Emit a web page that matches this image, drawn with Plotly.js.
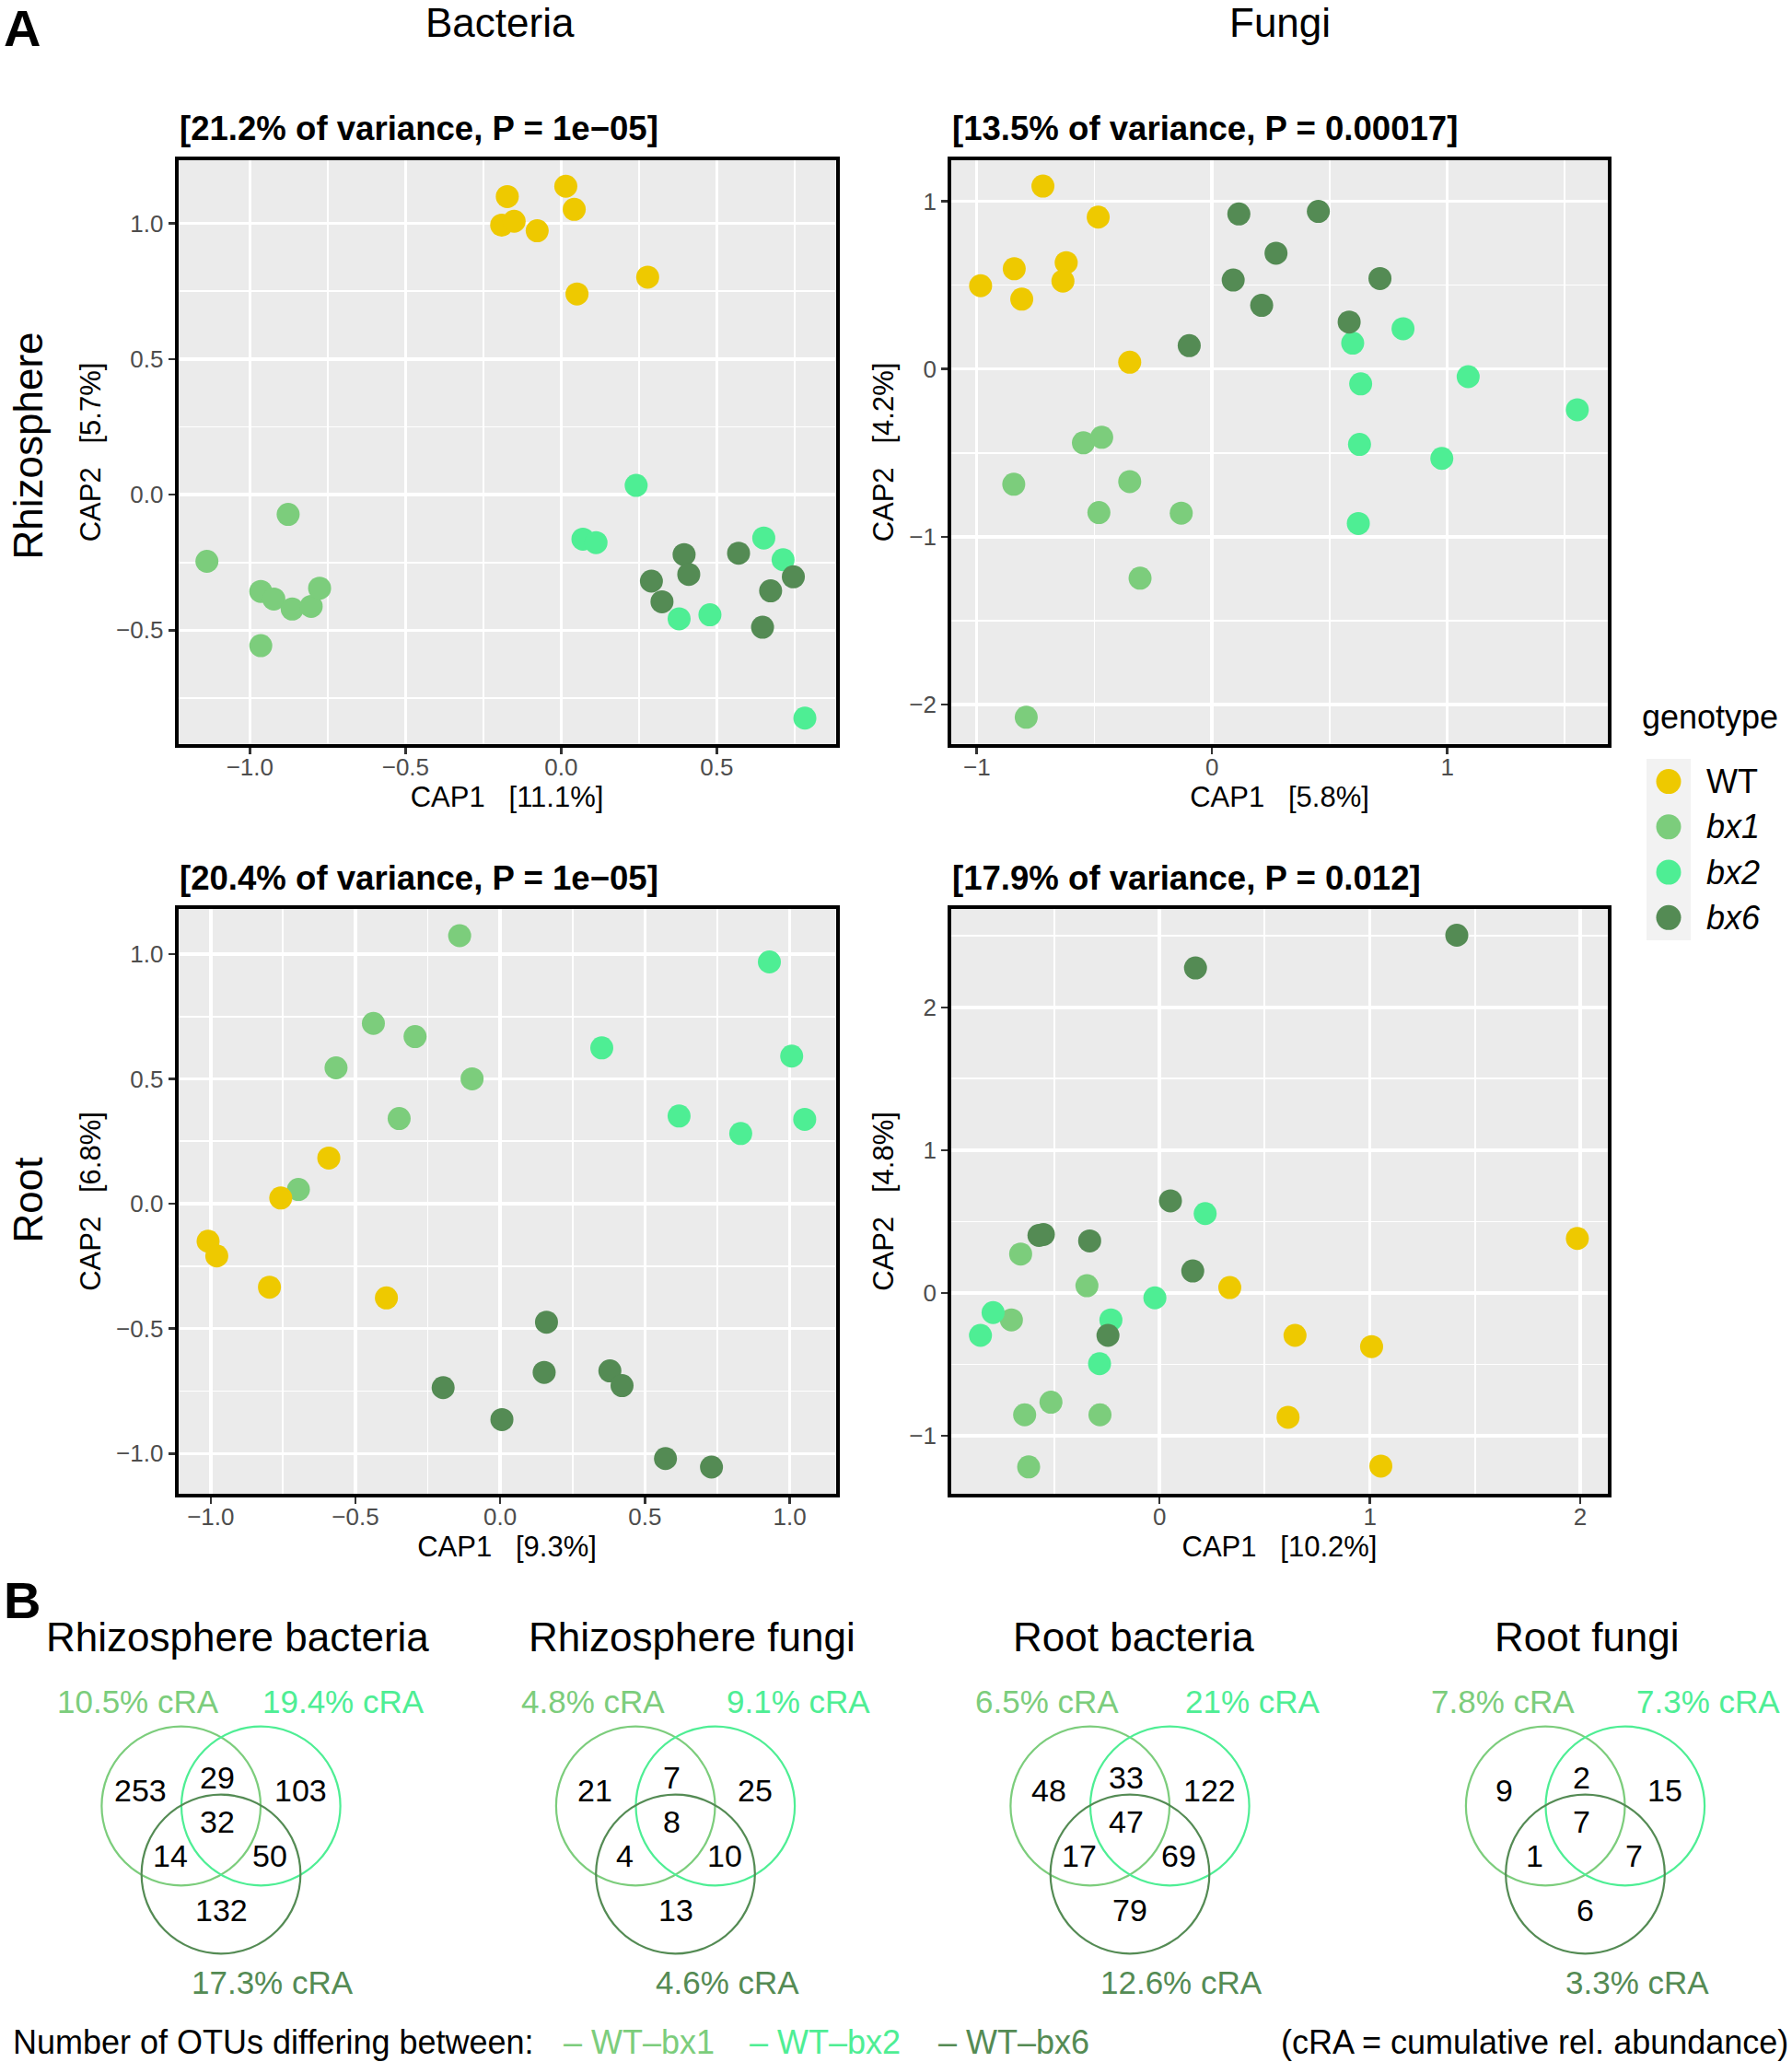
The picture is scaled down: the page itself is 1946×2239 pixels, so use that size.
<!DOCTYPE html>
<html><head><meta charset="utf-8">
<script src="https://cdn.plot.ly/plotly-3.0.1.min.js"></script>
<style>html,body{margin:0;padding:0;background:#fff}</style>
</head><body><div id="chart" style="width:1946px;height:2239px"></div>
<script>
const W = 1946, H = 2239;
const FONT = 'Liberation Sans, Arial, Helvetica, sans-serif';

// ---------- DATA ----------
const genotypes = ['WT', 'bx1', 'bx2', 'bx6'];
const genotypeColors = ['#EEC900', '#7CCD7C', '#4EEE94', '#548B54'];

// CAP scores, one inner array per genotype (WT, bx1, bx2, bx6)
const rhizoBacteriaCap1 = [
  [-0.173, 0.015, 0.042, -0.191, -0.151, -0.077, 0.278, 0.051],
  [-0.877, -1.138, -0.965, -0.923, -0.864, -0.803, -0.776, -0.965],
  [0.241, 0.070, 0.112, 0.379, 0.478, 0.651, 0.713, 0.783],
  [0.395, 0.410, 0.290, 0.324, 0.570, 0.673, 0.746, 0.647]
];
const rhizoBacteriaCap2 = [
  [1.099, 1.137, 1.052, 0.994, 1.008, 0.973, 0.802, 0.740],
  [-0.073, -0.246, -0.357, -0.385, -0.422, -0.412, -0.345, -0.557],
  [0.034, -0.164, -0.177, -0.458, -0.443, -0.160, -0.240, -0.824],
  [-0.221, -0.294, -0.319, -0.395, -0.216, -0.355, -0.303, -0.489]
];
const rhizoFungiCap1 = [
  [-0.719, -0.484, -0.841, -0.620, -0.634, -0.984, -0.809, -0.350],
  [-0.547, -0.469, -0.843, -0.350, -0.481, -0.131, -0.306, -0.790],
  [0.812, 0.598, 0.632, 1.089, 1.553, 0.627, 0.977, 0.622],
  [0.114, 0.452, 0.272, 0.090, 0.714, 0.211, 0.583, -0.097]
];
const rhizoFungiCap2 = [
  [1.090, 0.905, 0.597, 0.634, 0.524, 0.496, 0.416, 0.040],
  [-0.440, -0.407, -0.687, -0.671, -0.856, -0.859, -1.247, -2.076],
  [0.240, 0.154, -0.089, -0.046, -0.243, -0.450, -0.533, -0.921],
  [0.924, 0.939, 0.690, 0.530, 0.539, 0.379, 0.280, 0.139]
];
const rootBacteriaCap1 = [
  [-0.592, -0.758, -1.009, -0.979, -0.797, -0.393],
  [-0.140, -0.438, -0.294, -0.567, -0.097, -0.349, -0.697],
  [0.930, 0.351, 1.007, 0.618, 0.831, 1.052],
  [0.160, 0.152, 0.379, 0.421, -0.197, 0.006, 0.571, 0.730]
];
const rootBacteriaCap2 = [
  [0.183, 0.023, -0.150, -0.209, -0.334, -0.377],
  [1.073, 0.722, 0.669, 0.544, 0.500, 0.341, 0.057],
  [0.968, 0.624, 0.591, 0.351, 0.281, 0.338],
  [-0.474, -0.675, -0.669, -0.728, -0.736, -0.864, -1.020, -1.054]
];
const rootFungiCap1 = [
  [1.986, 0.334, 0.644, 1.008, 0.611, 1.052],
  [-0.660, -0.345, -0.704, -0.516, -0.641, -0.283, -0.622],
  [0.217, -0.022, -0.791, -0.851, -0.231, -0.285],
  [1.413, 0.171, 0.052, -0.552, -0.573, -0.332, 0.158, -0.245]
];
const rootFungiCap2 = [
  [0.382, 0.038, -0.297, -0.375, -0.870, -1.212],
  [0.273, 0.051, -0.188, -0.765, -0.853, -0.853, -1.218],
  [0.556, -0.034, -0.137, -0.297, -0.188, -0.495],
  [2.505, 2.276, 0.645, 0.410, 0.403, 0.365, 0.154, -0.297]
];

const panelVariance = [21.2, 13.5, 20.4, 17.9];
const panelP = ['1e\u221205', '0.00017', '1e\u221205', '0.012'];
const cap1Pct = ['11.1', '5.8', '9.3', '10.2'];
const cap2Pct = ['5.7', '4.2', '6.8', '4.8'];
const columnLabels = ['Bacteria', 'Fungi'];
const rowLabels = ['Rhizosphere', 'Root'];

// Venn diagrams: regions = [bx1 only, bx1&bx2, bx2 only, all, bx1&bx6, bx2&bx6, bx6 only]
const vennTitles = ['Rhizosphere bacteria', 'Rhizosphere fungi', 'Root bacteria', 'Root fungi'];
const vennCounts = [
  [253, 29, 103, 32, 14, 50, 132],
  [21, 7, 25, 8, 4, 10, 13],
  [48, 33, 122, 47, 17, 69, 79],
  [9, 2, 15, 7, 1, 7, 6]
];
// cumulative relative abundance (%) for WT-bx1, WT-bx2, WT-bx6
const vennCRA = [
  [10.5, 19.4, 17.3],
  [4.8, 9.1, 4.6],
  [6.5, 21, 12.6],
  [7.8, 7.3, 3.3]
];

// ---------- LAYOUT HELPERS ----------
const fx = x => x / W;
const fy = y => 1 - y / H;

const panelData = [
  [rhizoBacteriaCap1, rhizoBacteriaCap2],
  [rhizoFungiCap1, rhizoFungiCap2],
  [rootBacteriaCap1, rootBacteriaCap2],
  [rootFungiCap1, rootFungiCap2]
];
const panelBox = [
  {x0: 193.6, x1: 907.5, y0: 174, y1: 808, xr: [-1.23, 0.882], yr: [-0.92, 1.233], dt: 0.5, fmt: '.1f'},
  {x0: 1033.2, x1: 1745.8, y0: 174, y1: 808, xr: [-1.108, 1.682], yr: [-2.236, 1.244], dt: 1, fmt: 'd'},
  {x0: 193.6, x1: 907.5, y0: 987, y1: 1622, xr: [-1.112, 1.159], yr: [-1.161, 1.180], dt: 0.5, fmt: '.1f'},
  {x0: 1033.2, x1: 1745.8, y0: 987, y1: 1622, xr: [-0.989, 2.130], yr: [-1.406, 2.689], dt: 1, fmt: 'd'}
];
const drawOrder = [1, 2, 3, 0];
const NB = '\u00A0';

const traces = [];
const layout = {
  width: W, height: H,
  margin: {l: 0, r: 0, t: 0, b: 0},
  paper_bgcolor: '#ffffff',
  plot_bgcolor: '#EBEBEB',
  showlegend: false,
  font: {family: FONT, color: '#000'},
  annotations: [],
  shapes: []
};

function axisBase(dt, fmt) {
  return {
    showgrid: true, gridcolor: '#ffffff', gridwidth: 3.4,
    zeroline: false, showline: true, linecolor: '#000', linewidth: 4, mirror: true,
    ticks: 'outside', ticklen: 7, tickwidth: 2.6, tickcolor: '#333333',
    tickfont: {family: FONT, size: 26, color: '#4D4D4D'},
    tickmode: 'linear', tick0: 0, dtick: dt, tickformat: fmt,
    minor: {tick0: 0, dtick: dt / 2, showgrid: true, gridcolor: '#ffffff', gridwidth: 1.8, ticks: ''},
    fixedrange: true
  };
}

panelBox.forEach((b, i) => {
  const n = i + 1;
  const xa = 'xaxis' + (n === 1 ? '' : n), ya = 'yaxis' + (n === 1 ? '' : n);
  const xid = 'x' + (n === 1 ? '' : n), yid = 'y' + (n === 1 ? '' : n);
  layout[xa] = Object.assign(axisBase(b.dt, b.fmt), {
    domain: [fx(b.x0), fx(b.x1)], range: b.xr, anchor: yid, ticklabelstandoff: -8,
    title: {text: 'CAP1' + NB + NB + NB + '[' + cap1Pct[i] + '%]', font: {family: FONT, size: 31, color: '#000'}, standoff: 6}
  });
  layout[ya] = Object.assign(axisBase(b.dt, b.fmt), {
    domain: [fy(b.y1), fy(b.y0)], range: b.yr, anchor: xid,
    title: {text: 'CAP2' + NB + NB + NB + '[' + cap2Pct[i] + '%]', font: {family: FONT, size: 31, color: '#000'}, standoff: 8}
  });
  drawOrder.forEach(g => {
    traces.push({
      type: 'scatter', mode: 'markers', name: genotypes[g],
      x: panelData[i][0][g], y: panelData[i][1][g],
      xaxis: xid, yaxis: yid,
      marker: {color: genotypeColors[g], size: 25, line: {width: 0}},
      hoverinfo: 'skip'
    });
  });
  layout.annotations.push({
    xref: 'paper', yref: 'paper', x: fx(b.x0 - 1), y: fy(b.y0 - 34),
    xanchor: 'left', yanchor: 'middle', showarrow: false,
    text: '<b>[' + panelVariance[i] + '% of variance, P = ' + panelP[i] + ']</b>',
    font: {family: FONT, size: 36.6, color: '#000'}
  });
});

// column & row labels, panel letters
layout.annotations.push(
  {xref: 'paper', yref: 'paper', x: fx(543), y: fy(25), xanchor: 'center', yanchor: 'middle', showarrow: false,
   text: columnLabels[0], font: {family: FONT, size: 44, color: '#000'}},
  {xref: 'paper', yref: 'paper', x: fx(1390), y: fy(25), xanchor: 'center', yanchor: 'middle', showarrow: false,
   text: columnLabels[1], font: {family: FONT, size: 44, color: '#000'}},
  {xref: 'paper', yref: 'paper', x: fx(29.5), y: fy(484), xanchor: 'center', yanchor: 'middle', showarrow: false,
   textangle: -90, text: rowLabels[0], font: {family: FONT, size: 44, color: '#000'}},
  {xref: 'paper', yref: 'paper', x: fx(29.5), y: fy(1303), xanchor: 'center', yanchor: 'middle', showarrow: false,
   textangle: -90, text: rowLabels[1], font: {family: FONT, size: 44, color: '#000'}},
  {xref: 'paper', yref: 'paper', x: fx(2), y: fy(30), xanchor: 'left', yanchor: 'middle', showarrow: false,
   text: '<b>A</b>', font: {family: FONT, size: 56, color: '#000'}},
  {xref: 'paper', yref: 'paper', x: fx(2), y: fy(1737), xanchor: 'left', yanchor: 'middle', showarrow: false,
   text: '<b>B</b>', font: {family: FONT, size: 56, color: '#000'}}
);

// ---------- genotype legend (own small subplot) ----------
layout.xaxis5 = {domain: [fx(1788), fx(1836)], range: [-1, 1], visible: false, anchor: 'y5', fixedrange: true};
layout.yaxis5 = {domain: [fy(1021), fy(824)], range: [genotypes.length - 0.5, -0.5], visible: false, anchor: 'x5', fixedrange: true};
layout.shapes.push({type: 'rect', xref: 'x5 domain', yref: 'y5 domain', x0: 0, x1: 1, y0: 0, y1: 1,
  fillcolor: '#F2F2F2', line: {width: 0}, layer: 'below'});
traces.push({
  type: 'scatter', mode: 'markers', xaxis: 'x5', yaxis: 'y5',
  x: genotypes.map(() => 0), y: genotypes.map((g, i) => i),
  marker: {color: genotypeColors, size: 27, line: {width: 0}}, hoverinfo: 'skip'
});
layout.annotations.push({xref: 'paper', yref: 'paper', x: fx(1781), y: fy(778), xanchor: 'left', yanchor: 'middle',
  showarrow: false, text: 'genotype', font: {family: FONT, size: 36, color: '#000'}});
const legRowH = (1021 - 824) / genotypes.length;
genotypes.forEach((g, i) => {
  layout.annotations.push({xref: 'paper', yref: 'paper', x: fx(1851), y: fy(824 + legRowH * (i + 0.5)),
    xanchor: 'left', yanchor: 'middle', showarrow: false,
    text: i === 0 ? g : '<i>' + g + '</i>', font: {family: FONT, size: 36, color: '#000'}});
});

// ---------- Venn diagrams ----------
const vennCx = [240, 733.5, 1227, 1721.5];
const vennR = 86.3, vennTopY = 1961, vennBotY = 2035, vennDx = 43.3;
const circleColors = [genotypeColors[1], genotypeColors[2], genotypeColors[3]];
const regionOffsets = [[-88, 1944], [-4, 1930], [86, 1944], [-4, 1978], [-55, 2015], [53, 2015], [0, 2074]];
const craOffsets = [[-90, 1847], [133, 1847], [56, 2152]];
const vennTitleX = [258, 751, 1231, 1723];

vennCx.forEach((cx, d) => {
  const centers = [[cx - vennDx, vennTopY], [cx + vennDx, vennTopY], [cx, vennBotY]];
  centers.forEach((c, k) => {
    layout.shapes.push({type: 'circle', xref: 'paper', yref: 'paper',
      x0: fx(c[0] - vennR), x1: fx(c[0] + vennR), y0: fy(c[1] + vennR), y1: fy(c[1] - vennR),
      line: {color: circleColors[k], width: 2.2}, fillcolor: 'rgba(0,0,0,0)'});
  });
  vennCounts[d].forEach((v, r) => {
    layout.annotations.push({xref: 'paper', yref: 'paper', x: fx(cx + regionOffsets[r][0]), y: fy(regionOffsets[r][1]),
      xanchor: 'center', yanchor: 'middle', showarrow: false, text: String(v),
      font: {family: FONT, size: 34, color: '#000'}});
  });
  vennCRA[d].forEach((v, k) => {
    layout.annotations.push({xref: 'paper', yref: 'paper', x: fx(cx + craOffsets[k][0]), y: fy(craOffsets[k][1]),
      xanchor: 'center', yanchor: 'middle', showarrow: false, text: v + '% cRA',
      font: {family: FONT, size: 35, color: circleColors[k]}});
  });
  layout.annotations.push({xref: 'paper', yref: 'paper', x: fx(vennTitleX[d]), y: fy(1777),
    xanchor: 'center', yanchor: 'middle', showarrow: false, text: vennTitles[d],
    font: {family: FONT, size: 44, color: '#000'}});
});

// bottom key line
layout.annotations.push({xref: 'paper', yref: 'paper', x: fx(12), y: fy(2217), xanchor: 'left', yanchor: 'middle',
  showarrow: false, text: 'Number of OTUs differing between:', font: {family: FONT, size: 36, color: '#000'}});
const keyX = [610, 812, 1017];
[1, 2, 3].forEach((g, k) => {
  layout.annotations.push({xref: 'paper', yref: 'paper', x: fx(keyX[k]), y: fy(2217), xanchor: 'left', yanchor: 'middle',
    showarrow: false, text: '\u2013 WT\u2013' + genotypes[g], font: {family: FONT, size: 36, color: genotypeColors[g]}});
});
layout.annotations.push({xref: 'paper', yref: 'paper', x: fx(1944), y: fy(2217), xanchor: 'right', yanchor: 'middle',
  showarrow: false, text: '(cRA = cumulative rel. abundance)', font: {family: FONT, size: 36, color: '#000'}});

Plotly.newPlot('chart', traces, layout, {staticPlot: true, displayModeBar: false});
</script>
</body></html>
